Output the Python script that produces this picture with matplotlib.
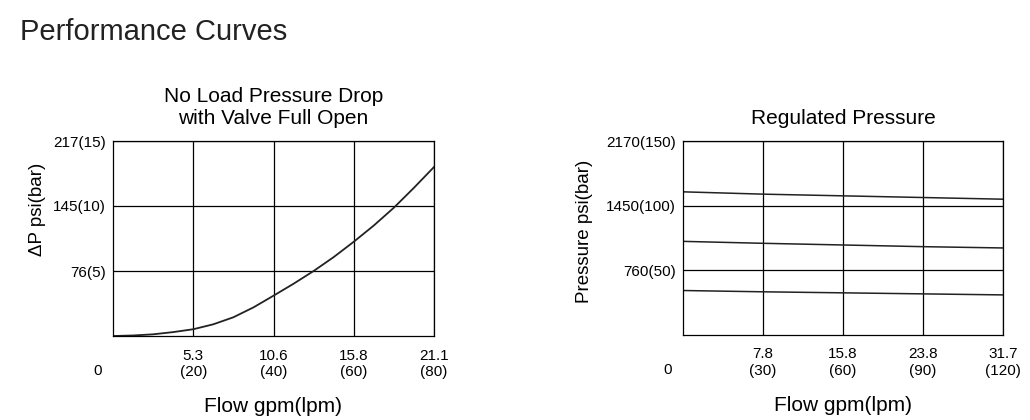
import matplotlib
matplotlib.use("Agg")
import matplotlib.pyplot as plt

plt.rcParams['font.family'] = ['Liberation Sans', 'DejaVu Sans']

# Left chart: no-load pressure drop
drop_flow_lpm = [0, 5, 10, 15, 20, 25, 30, 35, 40, 45, 50, 55, 60, 65, 70, 75, 80]
drop_bar = [0, 0.04, 0.13, 0.3, 0.52, 0.9, 1.44, 2.2, 3.1, 4.02, 5.0, 6.07, 7.25, 8.5, 9.87, 11.4, 13.0]
drop_xticks = [20, 40, 60, 80]
drop_xlabels = ["5.3\n(20)", "10.6\n(40)", "15.8\n(60)", "21.1\n(80)"]
drop_yticks = [5, 10, 15]
drop_ylabels = ["76(5)", "145(10)", "217(15)"]

# Right chart: regulated pressure
reg_flow_lpm = [0, 30, 60, 90, 120]
reg_high = [110.7, 108.9, 107.6, 106.3, 105.0]
reg_mid = [72.4, 70.9, 69.6, 68.3, 67.3]
reg_low = [34.4, 33.4, 32.6, 31.8, 31.0]
reg_xticks = [30, 60, 90, 120]
reg_xlabels = ["7.8\n(30)", "15.8\n(60)", "23.8\n(90)", "31.7\n(120)"]
reg_yticks = [50, 100, 150]
reg_ylabels = ["760(50)", "1450(100)", "2170(150)"]

W, H = 1030, 420
fig = plt.figure(figsize=(W / 100, H / 100), dpi=100)
fig.text(20 / W, 1 - 32 / H, "Performance Curves", fontsize=21, color='#222222',
         ha='left', va='center')


def setup(ax, xmax, ymax, xticks, xlabels, yticks, ylabels, title, ylabel,
          ylabel_y, ylabel_x):
    ax.set_xlim(0, xmax)
    ax.set_ylim(0, ymax)
    ax.set_xticks(xticks)
    ax.set_xticklabels(xlabels, fontsize=11, linespacing=1.2)
    ax.set_yticks(yticks)
    ax.set_yticklabels(ylabels, fontsize=11)
    ax.tick_params(length=0, pad=5)
    ax.tick_params(axis='x', pad=9)
    ax.grid(True, color='black', linewidth=0.9)
    for s in ax.spines.values():
        s.set_linewidth(0.9)
        s.set_color('black')
    ax.set_title(title, fontsize=15, pad=12, linespacing=1.2)
    ax.set_ylabel(ylabel, fontsize=13.5)
    ax.yaxis.set_label_coords(ylabel_x, ylabel_y)
    ax.set_xlabel("Flow gpm(lpm)", fontsize=15, labelpad=13)
    ax.annotate("0", xy=(0, 0), xycoords='axes fraction', xytext=(-11, -25),
                textcoords='offset points', fontsize=11, ha='center', va='center')


ax1 = fig.add_axes([113 / W, 1 - 336 / H, 321 / W, 195 / H])
setup(ax1, 80, 15, drop_xticks, drop_xlabels, drop_yticks, drop_ylabels,
      "No Load Pressure Drop\nwith Valve Full Open", "ΔP psi(bar)",
      (336 - 209) / 195, -(113 - 46) / 321)
ax1.plot(drop_flow_lpm, drop_bar, color='#222222', linewidth=1.3)

ax2 = fig.add_axes([683 / W, 1 - 335 / H, 320 / W, 194 / H])
setup(ax2, 120, 150, reg_xticks, reg_xlabels, reg_yticks, reg_ylabels,
      "Regulated Pressure", "Pressure psi(bar)",
      (335 - 231) / 194, -(683 - 593) / 320)
for series in (reg_high, reg_mid, reg_low):
    ax2.plot(reg_flow_lpm, series, color='#222222', linewidth=1.1)

fig.savefig("out.png", dpi=100)
